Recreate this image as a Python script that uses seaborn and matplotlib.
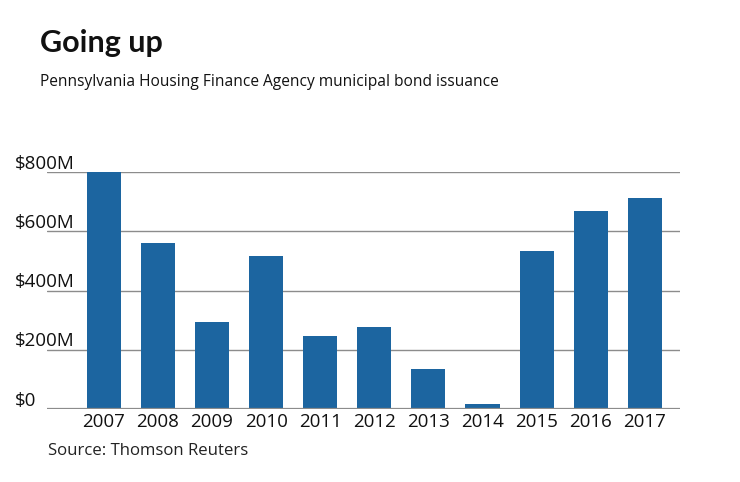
import matplotlib
matplotlib.use("Agg")
import matplotlib.pyplot as plt
import matplotlib.transforms as mtransforms
import pandas as pd
import seaborn as sns

years = ["2007", "2008", "2009", "2010", "2011", "2012", "2013", "2014", "2015", "2016", "2017"]
issuance = [800, 559, 292, 515, 248, 276, 135, 16, 535, 670, 713]  # $M
ytick_vals = [0, 200, 400, 600, 800]
ytick_labels = ["$0", "$200M", "$400M", "$600M", "$800M"]

df = pd.DataFrame({"year": years, "issuance": issuance})

sns.set_style("white")
plt.rcParams["font.family"] = ["Open Sans", "DejaVu Sans"]

fig = plt.figure(figsize=(7.4, 4.82), dpi=100)
ax = fig.add_axes([47 / 740, 73 / 482, 633 / 740, 237 / 482])

# gridlines behind the bars
for v in ytick_vals:
    ax.axhline(v, color="#8c8c8c", lw=1.0, zorder=0)
ax.axhline(0, color="#8c8c8c", lw=1.6, zorder=3)

sns.barplot(data=df, x="year", y="issuance", color="#1c65a0", width=0.63,
            saturation=1, linewidth=0, ax=ax, zorder=2)

ax.set_xlim(-1.05, 10.65)
ax.set_ylim(0, 800)
ax.set_xlabel("")
ax.set_ylabel("")
ax.set_yticks([])
ax.tick_params(axis="x", length=0, labelsize=13.5, pad=3, colors="#111111")
for s in ax.spines.values():
    s.set_visible(False)

# y labels sit just above the gridlines, starting left of the axes
trans = mtransforms.blended_transform_factory(fig.transFigure, ax.transData)
for v, lab in zip(ytick_vals, ytick_labels):
    ax.text(15 / 740, v + 11, lab, transform=trans, ha="left", va="baseline",
            fontsize=13.5, color="#111111")

fig.text(40 / 740, 1 - 52 / 482, "Going up", fontsize=22, fontweight="bold",
         ha="left", va="baseline", color="#111111", family=["Lato", "DejaVu Sans"])
fig.text(40 / 740, 1 - 86 / 482, "Pennsylvania Housing Finance Agency municipal bond issuance",
         fontsize=11.2, ha="left", va="baseline", color="#111111")
fig.text(48 / 740, 1 - 455 / 482, "Source: Thomson Reuters", fontsize=12.1,
         ha="left", va="baseline", color="#222222")

fig.savefig("out.png", dpi=100)
